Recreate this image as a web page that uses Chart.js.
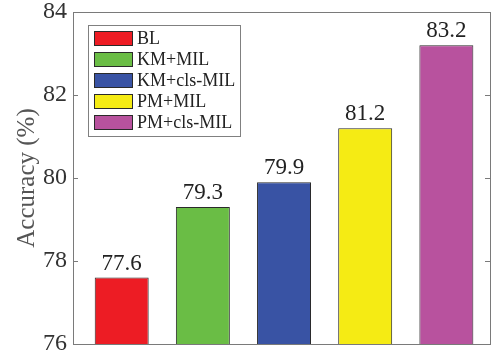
<!DOCTYPE html>
<html>
<head>
<meta charset="utf-8">
<script src="https://cdn.jsdelivr.net/npm/chart.js@4"></script>
<style>
html,body{margin:0;padding:0;background:#fff;}
#wrap{width:496px;height:358px;}
</style>
</head>
<body>
<div id="wrap"><canvas id="c" width="496" height="358"></canvas></div>
<script>
const categories = ['BL', 'KM+MIL', 'KM+cls-MIL', 'PM+MIL', 'PM+cls-MIL'];
const accuracy = [77.6, 79.3, 79.9, 81.2, 83.2];
const barColors = ['#ED1C24', '#6ABD45', '#3953A4', '#F5EB14', '#B8529E'];
const yTicks = [76, 78, 80, 82, 84];
const yLabel = 'Accuracy (%)';

const SERIF = '"Liberation Serif", "Times New Roman", serif';

const overlay = {
  id: 'overlay',
  afterDatasetsDraw(chart) {
    const ctx = chart.ctx;
    const a = chart.chartArea;
    const y = chart.scales.y;
    ctx.save();
    // frame
    ctx.strokeStyle = '#7a7a7a';
    ctx.lineWidth = 1;
    ctx.strokeRect(Math.round(a.left) + 0.5, Math.round(a.top) + 0.5,
                   Math.round(a.right - a.left) - 1, Math.round(a.bottom - a.top));
    // inward ticks on left and right
    yTicks.forEach(v => {
      const py = Math.round(y.getPixelForValue(v)) + 0.5;
      ctx.beginPath();
      ctx.moveTo(a.left, py); ctx.lineTo(a.left + 5, py);
      ctx.moveTo(a.right - 1, py); ctx.lineTo(a.right - 6, py);
      ctx.stroke();
    });
    // data labels
    const meta = chart.getDatasetMeta(0);
    ctx.fillStyle = '#222';
    ctx.font = '23px ' + SERIF;
    ctx.textAlign = 'center';
    ctx.textBaseline = 'alphabetic';
    meta.data.forEach((bar, i) => {
      ctx.fillText(accuracy[i].toFixed(1), bar.x, bar.y - 8);
    });
    // legend
    const lx = a.left + 15, ly = a.top + 13, lw = 152, lh = 111;
    ctx.fillStyle = '#fff';
    ctx.fillRect(lx, ly, lw, lh);
    ctx.strokeStyle = '#808080';
    ctx.strokeRect(lx + 0.5, ly + 0.5, lw, lh);
    ctx.font = '18px ' + SERIF;
    ctx.textAlign = 'left';
    ctx.textBaseline = 'middle';
    categories.forEach((name, i) => {
      const cy = ly + 13.5 + i * 21;
      ctx.fillStyle = barColors[i];
      ctx.fillRect(lx + 6, cy - 7.5, 39, 15);
      ctx.strokeStyle = '#2a2a2a';
      ctx.strokeRect(lx + 6.5, cy - 7, 38, 14);
      ctx.fillStyle = '#222';
      ctx.fillText(name, lx + 49, cy + 1);
    });
    ctx.restore();
  }
};

new Chart(document.getElementById('c'), {
  type: 'bar',
  data: {
    datasets: [{
      label: yLabel,
      data: accuracy.map((v, i) => ({ x: i + 1, y: v })),
      backgroundColor: barColors,
      borderColor: '#2a2a2a',
      borderWidth: 1,
      barPercentage: 0.665,
      categoryPercentage: 1
    }]
  },
  options: {
    responsive: false,
    animation: false,
    devicePixelRatio: 1,
    layout: { padding: { top: 12, bottom: 14, right: 5, left: 0 } },
    plugins: { legend: { display: false }, tooltip: { enabled: false } },
    scales: {
      x: {
        type: 'linear',
        min: 0.4,
        max: 5.55,
        offset: false,
        display: false,
        afterBuildTicks(scale) { scale.ticks = categories.map((c, i) => ({ value: i + 1 })); }
      },
      y: {
        min: 76,
        max: 84,
        afterBuildTicks(scale) { scale.ticks = yTicks.map(v => ({ value: v })); },
        afterFit(scale) {
          scale.width = 73;
          scale.paddingTop = 0;
          scale.paddingBottom = 0;
        },
        grid: { display: false, drawTicks: false },
        border: { display: false },
        ticks: {
          padding: 6,
          color: '#333',
          font: { family: SERIF, size: 24 }
        },
        title: {
          display: true,
          text: yLabel,
          color: '#555',
          font: { family: SERIF, size: 25 },
          padding: { top: 12, bottom: 0 }
        }
      }
    }
  },
  plugins: [overlay]
});
</script>
</body>
</html>
